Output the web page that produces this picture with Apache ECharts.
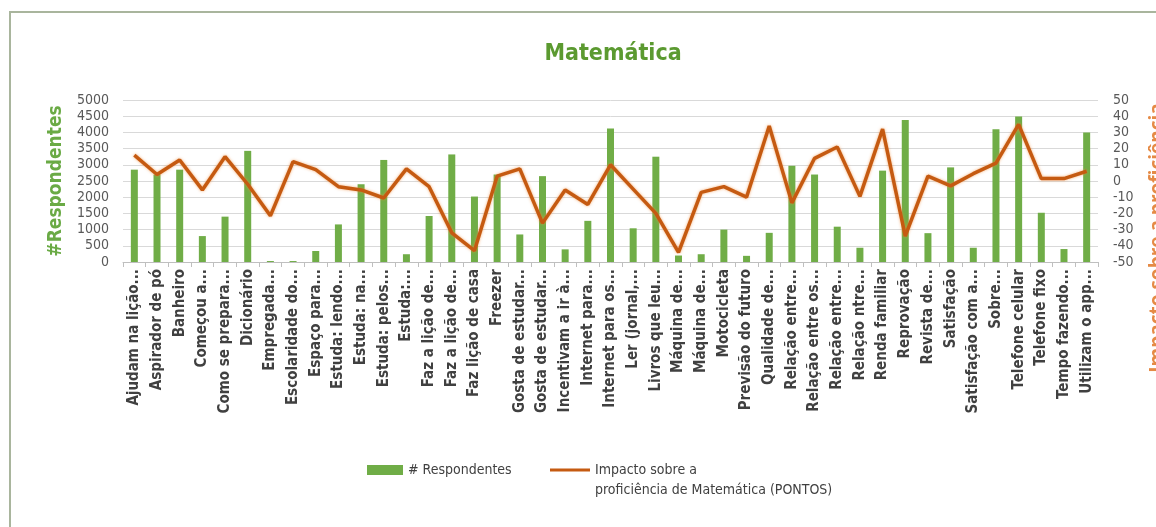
<!DOCTYPE html>
<html>
<head>
<meta charset="utf-8">
<script src="https://cdn.jsdelivr.net/npm/echarts@6/dist/echarts.min.js"></script>
<style>
html,body{margin:0;padding:0;background:#fff;}
#chart{width:1156px;height:527px;}
</style>
</head>
<body>
<div id="chart"></div>
<script>
const categories = [
  "Ajudam na lição...", "Aspirador de pó", "Banheiro", "Começou a...", "Como se prepara...",
  "Dicionário", "Empregada...", "Escolaridade do...", "Espaço para...", "Estuda: lendo...",
  "Estuda: na...", "Estuda: pelos...", "Estuda:...", "Faz a lição de...", "Faz a lição de...",
  "Faz lição de casa", "Freezer", "Gosta de estudar...", "Gosta de estudar...", "Incentivam a ir à...",
  "Internet para...", "Internet para os...", "Ler (jornal,...", "Livros que leu...", "Máquina de...",
  "Máquina de...", "Motocicleta", "Previsão do futuro", "Qualidade de...", "Relação entre...",
  "Relação entre os...", "Relação entre...", "Relação ntre...", "Renda familiar", "Reprovação",
  "Revista de...", "Satisfação", "Satisfação com a...", "Sobre...", "Telefone celular",
  "Telefone fixo", "Tempo fazendo...", "Utilizam o app..."
];
const respondentes = [
  2850, 2700, 2850, 800, 1400, 3430, 30, 30, 340, 1160,
  2400, 3150, 240, 1420, 3320, 2020, 2700, 850, 2650, 390,
  1270, 4120, 1040, 3250, 200, 240, 1000, 190, 900, 2970,
  2700, 1090, 440, 2820, 4380, 890, 2920, 440, 4100, 4490,
  1520, 400, 4000
];
const impacto = [
  16, 4, 13, -5.5, 15, -2, -21.5, 12, 7, -3.5,
  -5.5, -10.5, 7.5, -3.5, -32, -43, 3, 7.5, -26, -5.5,
  -14.5, 10, -5, -20, -44, -7, -3.5, -10, 34, -13.5,
  14, 21, -9.5, 32, -34, 3, -3, 4.5, 11, 35,
  1.5, 1.5, 6
];
const leftTicks = [0, 5000, 500];
const rightTicks = [-50, 50, 10];
const barName = '# Respondentes';
const lineName = 'Impacto sobre a\nproficiência de Matemática (PONTOS)';

const chart = echarts.init(document.getElementById('chart'), null, {renderer: 'canvas'});
const cond = "'DejaVu Sans Condensed', 'Open Sans', sans-serif";
chart.setOption({
  backgroundColor: '#ffffff',
  animation: false,
  title: {
    text: 'Matemática',
    left: 608,
    textAlign: 'center',
    top: 38,
    textStyle: {
      color: '#5b9a30',
      fontSize: 23,
      fontWeight: 'bold',
      fontFamily: cond
    }
  },
  graphic: [
    {
      type: 'rect',
      shape: {x: 10, y: 12, width: 1170, height: 540},
      style: {fill: 'none', stroke: '#a9b59d', lineWidth: 2},
      silent: true
    },
    {
      type: 'text',
      x: 1158, y: 238,
      rotation: Math.PI / 2,
      style: {
        text: 'Impacto sobre a proficiência',
        fill: '#e58a45',
        font: "bold 19px 'Open Sans', sans-serif",
        align: 'center',
        verticalAlign: 'middle'
      }
    }
  ],
  legend: [
    {
      left: 367,
      top: 463,
      padding: 0,
      itemWidth: 36,
      itemHeight: 10,
      itemGap: 4,
      textStyle: {color: '#404040', fontSize: 14, fontFamily: cond},
      data: [{name: barName, icon: 'rect'}]
    },
    {
      left: 550,
      top: 440,
      padding: 0,
      itemWidth: 40,
      itemHeight: 3,
      itemGap: 3,
      formatter: name => '\n' + name,
      textStyle: {color: '#404040', fontSize: 14, fontFamily: cond, lineHeight: 20},
      data: [{name: lineName, icon: 'rect'}]
    }
  ],
  grid: {left: 123, right: 58, top: 100, bottom: 265},
  xAxis: {
    type: 'category',
    data: categories,
    axisLine: {lineStyle: {color: '#bfbfbf'}},
    axisTick: {show: true, lineStyle: {color: '#bfbfbf'}},
    axisLabel: {
      rotate: 90,
      interval: 0,
      color: '#404040',
      fontSize: 15,
      fontWeight: 'bold',
      fontFamily: cond,
      margin: 7
    }
  },
  yAxis: [
    {
      type: 'value',
      min: leftTicks[0], max: leftTicks[1], interval: leftTicks[2],
      name: '#Respondentes',
      nameLocation: 'middle',
      nameGap: 47,
      nameRotate: 90,
      nameTextStyle: {color: '#6aaa45', fontSize: 19, fontWeight: 'bold', fontFamily: cond},
      axisLine: {show: false},
      axisTick: {show: false},
      splitLine: {lineStyle: {color: '#d9d9d9'}},
      axisLabel: {color: '#595959', fontSize: 14, fontFamily: cond, margin: 14, formatter: v => String(v)}
    },
    {
      type: 'value',
      min: rightTicks[0], max: rightTicks[1], interval: rightTicks[2],
      position: 'right',
      axisLine: {show: false},
      axisTick: {show: false},
      splitLine: {show: false},
      axisLabel: {color: '#595959', fontSize: 14, fontFamily: cond, margin: 15}
    }
  ],
  series: [
    {
      name: barName,
      type: 'bar',
      data: respondentes,
      barWidth: 7,
      itemStyle: {color: '#70ad47'},
      yAxisIndex: 0
    },
    {
      name: lineName,
      type: 'line',
      data: impacto,
      yAxisIndex: 1,
      symbol: 'none',
      lineStyle: {color: '#c55a11', width: 3.5, shadowColor: 'rgba(240,140,60,0.7)', shadowBlur: 3},
      itemStyle: {color: '#c55a11'}
    }
  ]
});
</script>
</body>
</html>
